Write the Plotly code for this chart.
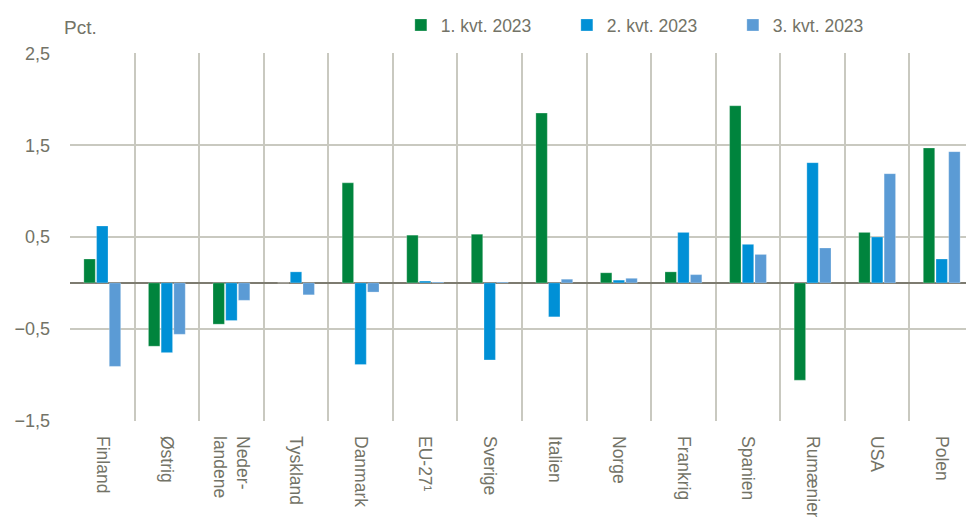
import plotly.graph_objects as go

categories = ["Finland", "Østrig", "Neder-<br>landene", "Tyskland", "Danmark", "EU-27¹",
              "Sverige", "Italien", "Norge", "Frankrig", "Spanien", "Rumænien", "USA", "Polen"]
q1_2023 = [0.26, -0.69, -0.45, 0.0, 1.09, 0.52, 0.53, 1.85, 0.11, 0.12, 1.93, -1.06, 0.55, 1.47]
q2_2023 = [0.62, -0.76, -0.41, 0.12, -0.89, 0.02, -0.84, -0.37, 0.03, 0.55, 0.42, 1.31, 0.50, 0.26]
q3_2023 = [-0.91, -0.56, -0.19, -0.13, -0.10, 0.01, 0.01, 0.04, 0.05, 0.09, 0.31, 0.38, 1.19, 1.43]
series_names = ["1. kvt. 2023", "2. kvt. 2023", "3. kvt. 2023"]
colors = ["#00843D", "#0090D6", "#5B9BD5"]
y_ticks = [-1.5, -0.5, 0.5, 1.5, 2.5]

text_color = "#737367"
font_family = "Liberation Sans, Arial, sans-serif"

fig = go.Figure()
for name, vals, col in zip(series_names, [q1_2023, q2_2023, q3_2023], colors):
    fig.add_trace(go.Bar(x=categories, y=vals, name=name, marker_color=col,
                         marker_line=dict(color="rgba(255,255,255,0.5)", width=0.5)))

fig.update_layout(
    width=966, height=509,
    margin=dict(l=61.5, r=0, t=45, b=96, autoexpand=False),
    paper_bgcolor="white", plot_bgcolor="white",
    separators=",.",
    barmode="group", bargap=0.41, bargroupgap=0.1,
    font=dict(family=font_family, size=17.5, color=text_color),
    showlegend=True,
    legend=dict(orientation="h", x=0.366, xanchor="left", y=1.027, yanchor="bottom",
                font=dict(size=17.5, color=text_color),
                entrywidth=121, entrywidthmode="pixels", itemwidth=30,
                bgcolor="rgba(0,0,0,0)"),
    xaxis=dict(tickson="boundaries", showgrid=True, gridcolor="#C9C9C0", gridwidth=1.5,
               tickangle=90, ticks="", ticklabelstandoff=14,
               tickfont=dict(size=17.5, color=text_color),
               showline=False, zeroline=False),
    yaxis=dict(range=[-1.505, 2.505], tickvals=y_ticks, tickformat=".1f",
               showgrid=True, gridcolor="#C9C9C0", gridwidth=1.5,
               zeroline=True, zerolinecolor="#7D7B70", zerolinewidth=2,
               ticks="", ticklabelstandoff=19, tickfont=dict(size=18, color=text_color),
               showline=False),
    annotations=[dict(text="Pct.", xref="paper", yref="paper", x=0.012, y=1.0,
                      xanchor="center", yanchor="bottom", yshift=13, showarrow=False,
                      font=dict(size=19, color=text_color))],
)

fig.write_html("out.html")
